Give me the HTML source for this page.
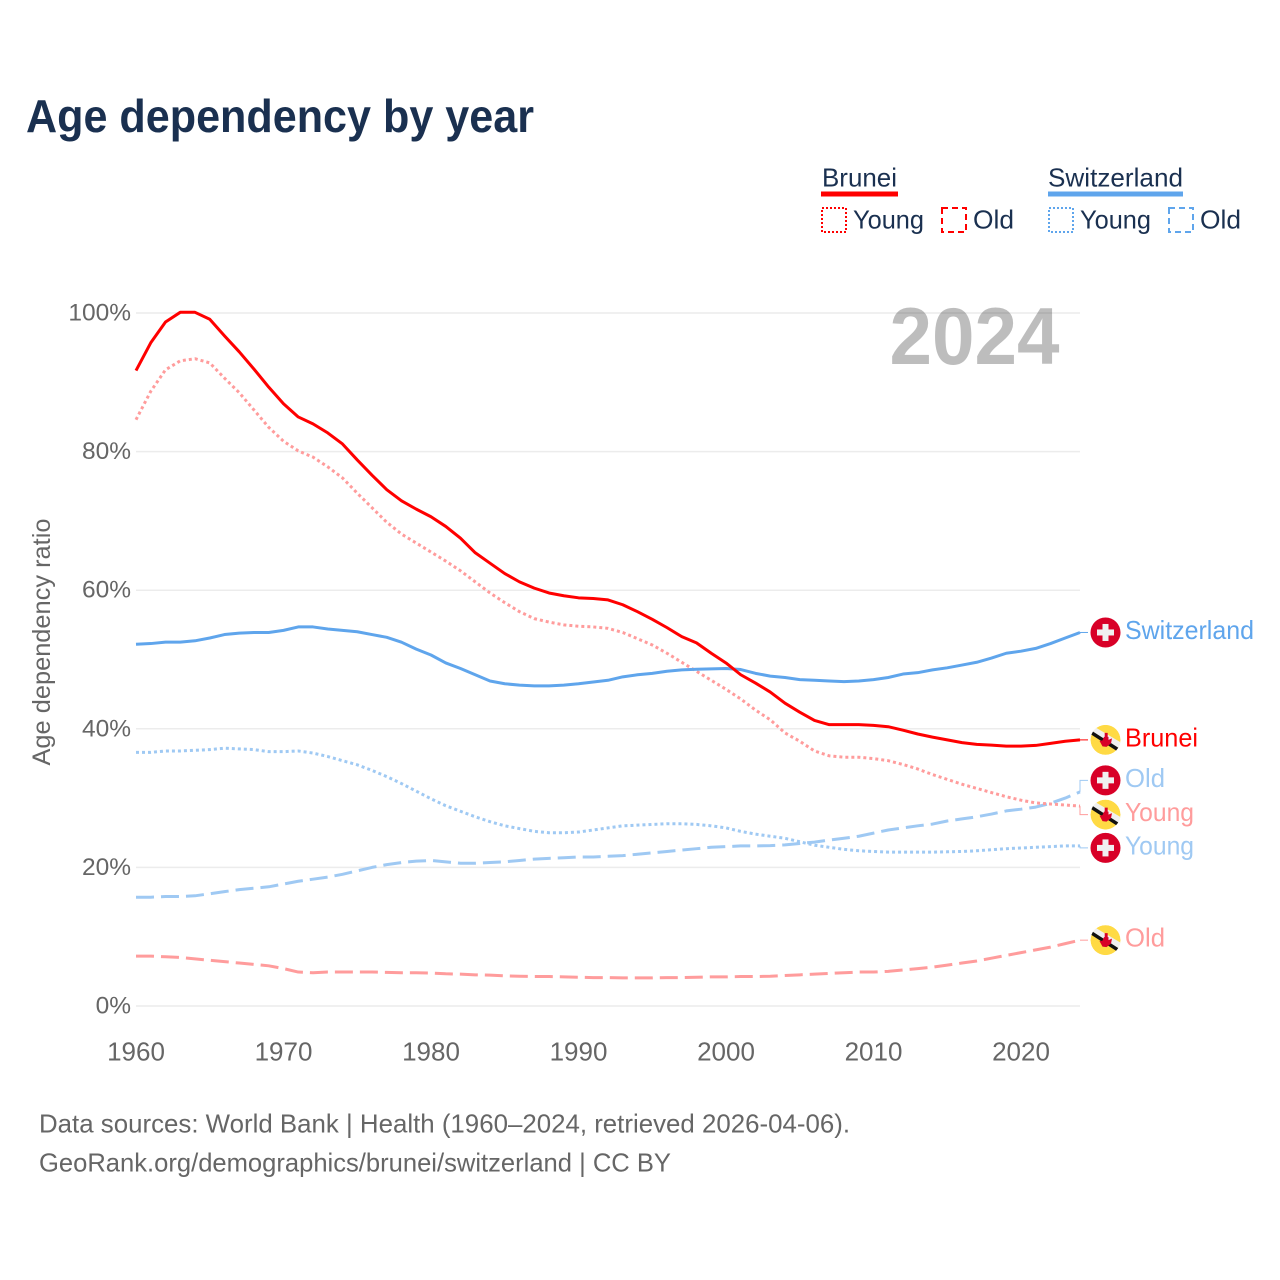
<!DOCTYPE html>
<html lang="en">
<head>
<meta charset="utf-8">
<title>Age dependency by year</title>
<style>
html,body{margin:0;padding:0;background:#fff}
svg{display:block}
text{font-family:"Liberation Sans",sans-serif}
</style>
</head>
<body>
<svg id="chart" width="1280" height="1280" viewBox="0 0 1280 1280" xmlns="http://www.w3.org/2000/svg">
  <defs>
    <clipPath id="flag-clip"><circle cx="0" cy="0" r="15"></circle></clipPath>
    <g id="flag-ch">
      <circle cx="0" cy="0" r="15" fill="#d80027"></circle>
      <rect x="-3" y="-8.5" width="6" height="17" fill="#f0f0f0"></rect>
      <rect x="-8.5" y="-3" width="17" height="6" fill="#f0f0f0"></rect>
    </g>
    <g id="flag-bn">
      <g clip-path="url(#flag-clip)">
        <circle cx="0" cy="0" r="15" fill="#ffda44"></circle>
        <line x1="-16" y1="-12.5" x2="16" y2="6.5" stroke="#f0f0f0" stroke-width="6"></line>
        <line x1="-16" y1="-8.5" x2="16" y2="12" stroke="#111" stroke-width="3.5"></line>
      </g>
      <path d="M-0.8,-7 H2.2 V-3 H3 V0 L6.5,-1.5 L5.5,3.5 L1,7 L-3,6.5 L-6,1 L-3,0.5 L-1.5,-3 H-0.8 Z" fill="#d80027"></path>
    </g>
  </defs>

  <text x="26" y="132" font-size="46" font-weight="700" fill="#1a3050" textLength="508" lengthAdjust="spacingAndGlyphs">Age dependency by year</text>

  <g>
    <text x="822" y="186.5" font-size="26" fill="#1a3050" textLength="75" lengthAdjust="spacingAndGlyphs">Brunei</text>
    <rect x="821" y="191.5" width="77" height="5" fill="#ff0000"></rect>
    <rect x="822" y="208" width="24" height="24" fill="none" stroke="#ff0000" stroke-width="2" stroke-dasharray="2 2"></rect>
    <text x="853" y="228.5" font-size="26" fill="#1a3050" textLength="71" lengthAdjust="spacingAndGlyphs">Young</text>
    <rect x="942" y="208" width="24" height="24" fill="none" stroke="#ff0000" stroke-width="2" stroke-dasharray="6 4"></rect>
    <text x="973" y="228.5" font-size="26" fill="#1a3050" textLength="41" lengthAdjust="spacingAndGlyphs">Old</text>

    <text x="1048" y="186.5" font-size="26" fill="#1a3050" textLength="135" lengthAdjust="spacingAndGlyphs">Switzerland</text>
    <rect x="1048" y="191.5" width="135" height="5" fill="#5fa5ec"></rect>
    <rect x="1049" y="208" width="24" height="24" fill="none" stroke="#5fa5ec" stroke-width="2" stroke-dasharray="2 2"></rect>
    <text x="1080" y="228.5" font-size="26" fill="#1a3050" textLength="71" lengthAdjust="spacingAndGlyphs">Young</text>
    <rect x="1169" y="208" width="24" height="24" fill="none" stroke="#5fa5ec" stroke-width="2" stroke-dasharray="6 4"></rect>
    <text x="1200" y="228.5" font-size="26" fill="#1a3050" textLength="41" lengthAdjust="spacingAndGlyphs">Old</text>
  </g>

  <g id="grid"></g>
  <text x="889.5" y="364" font-size="81" font-weight="700" fill="#000000" fill-opacity="0.26" textLength="170" lengthAdjust="spacingAndGlyphs">2024</text>
  <g id="y-ticks"></g>
  <g id="x-ticks"></g>
  <text transform="translate(50,642) rotate(-90)" text-anchor="middle" font-size="25" fill="#666666" textLength="247" lengthAdjust="spacingAndGlyphs">Age dependency ratio</text>
  <g id="series"></g>
  <g id="end-labels"></g>

  <text x="39" y="1132.5" font-size="26" fill="#666666" textLength="811" lengthAdjust="spacingAndGlyphs">Data sources: World Bank | Health (1960–2024, retrieved 2026-04-06).</text>
  <text x="39" y="1171.5" font-size="26" fill="#666666" textLength="632" lengthAdjust="spacingAndGlyphs">GeoRank.org/demographics/brunei/switzerland | CC BY</text>
</svg>
<script>
const years = [1960,1961,1962,1963,1964,1965,1966,1967,1968,1969,
  1970,1971,1972,1973,1974,1975,1976,1977,1978,1979,
  1980,1981,1982,1983,1984,1985,1986,1987,1988,1989,
  1990,1991,1992,1993,1994,1995,1996,1997,1998,1999,
  2000,2001,2002,2003,2004,2005,2006,2007,2008,2009,
  2010,2011,2012,2013,2014,2015,2016,2017,2018,2019,
  2020,2021,2022,2023,2024];
const bruneiTotal = [91.7,95.7,98.7,100.1,100.1,99.1,96.7,94.4,91.9,89.3,
  86.9,85,84,82.7,81.1,78.8,76.6,74.5,72.9,71.7,
  70.6,69.2,67.5,65.4,63.9,62.4,61.2,60.3,59.6,59.2,
  58.9,58.8,58.6,57.9,56.9,55.8,54.6,53.3,52.4,50.9,
  49.5,47.8,46.6,45.3,43.7,42.4,41.2,40.6,40.6,40.6,
  40.5,40.3,39.8,39.25,38.8,38.4,38,37.75,37.65,37.5,
  37.5,37.6,37.9,38.2,38.4];
const bruneiYoung = [84.6,88.7,91.8,93.1,93.4,92.8,90.6,88.5,86,83.5,
  81.5,80.1,79.2,77.8,76.2,74,71.9,69.8,68.1,66.8,
  65.5,64.2,62.8,61.2,59.6,58.2,56.9,55.9,55.4,55,
  54.8,54.7,54.5,53.9,53,52.1,50.9,49.6,48.3,47,
  45.7,44.3,42.7,41.3,39.4,38.2,36.8,36.1,35.9,35.9,
  35.7,35.4,34.85,34.2,33.4,32.7,32,31.4,30.8,30.2,
  29.7,29.3,29.15,29,28.85];
const bruneiOld = [7.2,7.2,7.1,7,6.8,6.6,6.4,6.2,6,5.8,
  5.4,4.9,4.8,4.9,4.9,4.9,4.9,4.85,4.8,4.8,
  4.75,4.65,4.6,4.5,4.45,4.35,4.3,4.25,4.25,4.2,
  4.15,4.1,4.1,4.05,4.05,4.05,4.1,4.1,4.15,4.2,
  4.2,4.25,4.25,4.3,4.4,4.5,4.6,4.7,4.8,4.9,
  4.9,5,5.2,5.4,5.6,5.9,6.2,6.5,6.9,7.3,
  7.7,8.1,8.5,9,9.5];
const swissTotal = [52.2,52.3,52.5,52.5,52.7,53.1,53.6,53.8,53.9,53.9,
  54.2,54.7,54.7,54.4,54.2,54,53.6,53.2,52.5,51.5,
  50.65,49.5,48.7,47.8,46.9,46.5,46.3,46.2,46.2,46.3,
  46.5,46.75,47,47.5,47.8,48,48.3,48.5,48.6,48.65,
  48.7,48.55,48,47.6,47.4,47.1,47,46.9,46.8,46.9,
  47.1,47.4,47.9,48.1,48.5,48.8,49.2,49.6,50.2,50.9,
  51.2,51.6,52.3,53.1,53.9];
const swissYoung = [36.6,36.6,36.8,36.8,36.9,37,37.2,37.1,37,36.7,
  36.7,36.8,36.5,36,35.4,34.8,34,33.1,32.1,31,
  29.9,28.9,28.1,27.3,26.6,26,25.6,25.2,25,25,
  25.1,25.4,25.7,26,26.1,26.2,26.3,26.3,26.2,26,
  25.7,25.2,24.8,24.5,24.2,23.7,23.2,22.9,22.6,22.4,
  22.3,22.2,22.2,22.2,22.2,22.25,22.3,22.4,22.55,22.7,
  22.8,22.9,23,23.1,23.1];
const swissOld = [15.7,15.7,15.8,15.8,15.9,16.2,16.5,16.8,17,17.2,
  17.6,18,18.3,18.6,19,19.5,20,20.4,20.7,20.9,
  21,20.8,20.6,20.6,20.7,20.8,21,21.2,21.3,21.4,
  21.5,21.5,21.6,21.7,21.9,22.1,22.3,22.5,22.7,22.9,
  23,23.1,23.1,23.15,23.25,23.45,23.65,23.95,24.2,24.5,
  24.95,25.4,25.7,26,26.25,26.7,27,27.3,27.7,28.15,
  28.4,28.7,29.25,30,30.9];
const yTickValues = [0,20,40,60,80,100];
const yTickLabels = ["0%","20%","40%","60%","80%","100%"];
const xTickValues = [1960,1970,1980,1990,2000,2010,2020];

const NS = "http://www.w3.org/2000/svg";
function xScale(year){ return 136 + (year - 1960) * (1080 - 136) / 64; }
function yScale(v){ return 1006 - v * (1006 - 313) / 100; }
function make(tag, attrs, parent){
  const el = document.createElementNS(NS, tag);
  for (const k in attrs) el.setAttribute(k, attrs[k]);
  parent.appendChild(el);
  return el;
}

const gridGroup = document.getElementById("grid");
const yTickGroup = document.getElementById("y-ticks");
yTickValues.forEach(function(v, i){
  const line = make("line", {x1:136, x2:1080, y1:yScale(v), y2:yScale(v), stroke:"#ececec", "stroke-width":1.5}, gridGroup);
  
  
  const label = make("text", {x:131, y:yScale(v)+7.5, "text-anchor":"end", "font-size":24.5, fill:"#666666"}, yTickGroup);
  
  
  label.textContent = yTickLabels[i];
});

const xTickGroup = document.getElementById("x-ticks");
xTickValues.forEach(function(y){
  const label = make("text", {x:xScale(y), y:1060.5, "text-anchor":"middle", "font-size":26, fill:"#666666"}, xTickGroup);
  
  
  label.textContent = y;
});

const seriesGroup = document.getElementById("series");
const labelGroup = document.getElementById("end-labels");

function drawSeries(name, values, color, dash, text, textWidth, flag, labelShift){
  const pts = values.map(function(v, i){ return xScale(years[i]).toFixed(2) + "," + yScale(v).toFixed(2); }).join(" ");
  const attrs = {points:pts, fill:"none", stroke:color, "stroke-width":3, "stroke-linejoin":"round"};
  if (dash) attrs["stroke-dasharray"] = dash;
  const line = make("polyline", attrs, seriesGroup);
  
  

  const endY = yScale(values[values.length - 1]);
  const labelY = endY + labelShift;
  const connector = make("path", {d:"M1080 " + endY.toFixed(2) + " V" + labelY.toFixed(2) + " H1088", fill:"none", stroke:color, "stroke-width":1}, labelGroup);
  
  

  const icon = make("use", {href:"#" + flag, transform:"translate(1105.5," + labelY.toFixed(2) + ")"}, labelGroup);
  
  

  const label = make("text", {x:1125, y:(labelY + 6.5).toFixed(2), "font-size":26, fill:color, textLength:textWidth, lengthAdjust:"spacingAndGlyphs"}, labelGroup);
  
  
  label.textContent = text;
}

drawSeries("switzerland-old", swissOld, "#9fc9f3", "18 7", "Old", 40, "flag-ch", -11.5);
drawSeries("brunei-old", bruneiOld, "#ff9c9c", "18 7", "Old", 40, "flag-bn", 0);
drawSeries("switzerland-young", swissYoung, "#9fc9f3", "3 3", "Young", 69, "flag-ch", 2);
drawSeries("brunei-young", bruneiYoung, "#ff9c9c", "3 3", "Young", 69, "flag-bn", 8.5);
drawSeries("switzerland-total", swissTotal, "#5fa5ec", "", "Switzerland", 129, "flag-ch", 0);
drawSeries("brunei-total", bruneiTotal, "#ff0000", "", "Brunei", 73, "flag-bn", 0);
</script>
</body>
</html>
